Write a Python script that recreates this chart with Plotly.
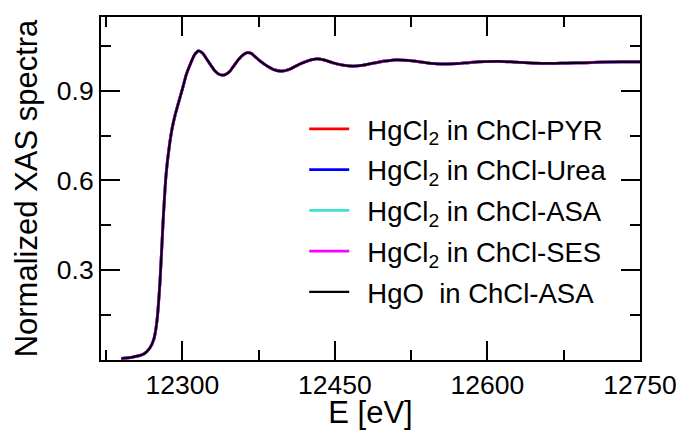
import plotly.graph_objects as go

# Energy grid (eV) and normalized absorption
energy = [12240, 12250, 12262, 12268, 12272, 12275, 12278, 12281, 12284, 12287,
          12290, 12293, 12296, 12300, 12304, 12308, 12312, 12316, 12320, 12324,
          12328, 12332, 12336, 12341, 12346, 12350, 12355, 12360, 12364, 12368,
          12372, 12376, 12382, 12390, 12398, 12406, 12415, 12424, 12432, 12440,
          12448, 12458, 12468, 12478, 12488, 12500, 12511, 12522, 12534, 12545,
          12557, 12570, 12583, 12597, 12612, 12628, 12645, 12662, 12678, 12695,
          12711, 12730, 12750]

mu_pyr = [0.005, 0.009, 0.02, 0.04, 0.07, 0.13, 0.26, 0.46, 0.62, 0.71,
          0.775, 0.82, 0.857, 0.905, 0.955, 0.99, 1.02, 1.033, 1.025, 1.005,
          0.985, 0.966, 0.955, 0.952, 0.962, 0.98, 1.003, 1.02, 1.027, 1.024,
          1.012, 1.0, 0.985, 0.97, 0.965, 0.972, 0.988, 1.0, 1.006, 1.002,
          0.993, 0.985, 0.982, 0.985, 0.992, 0.999, 1.003, 1.001, 0.996, 0.991,
          0.989, 0.99, 0.994, 0.997, 0.998, 0.995, 0.992, 0.991, 0.992, 0.993,
          0.995, 0.996, 0.996]
mu_urea = list(mu_pyr)
mu_asa = list(mu_pyr)
mu_ses = list(mu_pyr)
mu_hgo = list(mu_pyr)

names = ["HgCl<sub>2</sub> in ChCl-PYR", "HgCl<sub>2</sub> in ChCl-Urea",
         "HgCl<sub>2</sub> in ChCl-ASA", "HgCl<sub>2</sub> in ChCl-SES",
         "HgO  in ChCl-ASA"]
series = [mu_pyr, mu_urea, mu_asa, mu_ses, mu_hgo]
colors = ["#ff0000", "#0000ff", "#40e0d0", "#ff00ff", "#000000"]
widths = [2.8, 2.8, 2.8, 2.8, 2.2]

x_ticks = [12300, 12450, 12600, 12750]
y_ticks = [0.3, 0.6, 0.9]
y_minor = [0.15, 0.45, 0.75, 1.05]

fig = go.Figure()
for i, (nm, ys, c, w) in enumerate(zip(names, series, colors, widths)):
    fig.add_trace(go.Scatter(x=energy, y=ys, mode="lines",
                             name="\u00a0\u2009" + nm, legendgroup=f"g{i}",
                             line=dict(color=c, width=w, shape="spline", smoothing=0.6)))

font_family = "Liberation Sans, Arial, Helvetica, sans-serif"
# page body has an 8px default margin, so the figure is sized to fit the window
fig.update_layout(
    width=677, height=422,
    margin=dict(l=93, r=45, t=9, b=70),
    plot_bgcolor="white", paper_bgcolor="white",
    font=dict(family=font_family, size=25, color="black"),
    showlegend=True,
    legend=dict(x=0.377, y=0.745, xanchor="left", yanchor="top",
                bgcolor="rgba(0,0,0,0)", font=dict(size=27.5),
                itemwidth=40, tracegroupgap=2),
)
fig.update_xaxes(
    range=[12220, 12750], tickvals=x_ticks, ticktext=[str(v) for v in x_ticks],
    ticks="inside", ticklen=19, tickwidth=2, tickcolor="black",
    minor=dict(dtick=75, tick0=12300, ticks="inside", ticklen=10, tickwidth=2, tickcolor="black"),
    showline=True, linewidth=2, linecolor="black", mirror="ticks",
    showgrid=False, zeroline=False, automargin=False,
    title=dict(text="E [eV]", font=dict(size=31), standoff=8),
    tickfont=dict(size=26.5),
)
fig.update_yaxes(
    range=[0.0, 1.146], tickvals=y_ticks, ticktext=[f"{v:.1f}" for v in y_ticks],
    ticks="inside", ticklen=19, tickwidth=2, tickcolor="black",
    minor=dict(tickvals=y_minor, ticks="inside", ticklen=10, tickwidth=2, tickcolor="black"),
    showline=True, linewidth=2, linecolor="black", mirror="ticks",
    showgrid=False, zeroline=False, automargin=False,
    title=dict(text="Normalized XAS spectra", font=dict(size=31), standoff=10),
    tickfont=dict(size=26.5),
)
fig.write_html("out.html")
